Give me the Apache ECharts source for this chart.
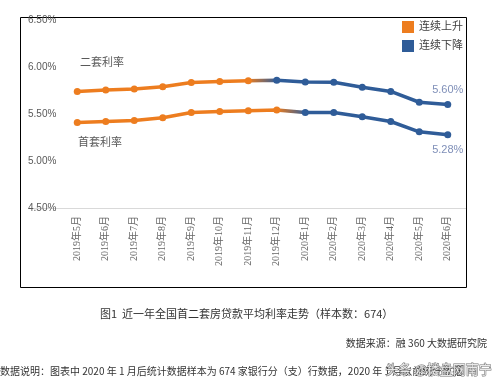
<!DOCTYPE html>
<html>
<head>
<meta charset="utf-8">
<script src="https://cdn.jsdelivr.net/npm/echarts@6/dist/echarts.min.js"></script>
<style>
html,body{margin:0;padding:0;background:#fff;}
#c{width:498px;height:392px;}
</style>
</head>
<body>
<div id="c"></div>
<script>
var categories = ['2019年5月','2019年6月','2019年7月','2019年8月','2019年9月','2019年10月','2019年11月','2019年12月','2020年1月','2020年2月','2020年3月','2020年4月','2020年5月','2020年6月'];
var secondHome = [5.74, 5.755, 5.765, 5.79, 5.835, 5.845, 5.853, 5.86, 5.84, 5.837, 5.784, 5.74, 5.625, 5.60];
var firstHome  = [5.41, 5.42, 5.43, 5.46, 5.515, 5.527, 5.535, 5.543, 5.517, 5.517, 5.47, 5.42, 5.31, 5.28];
var yTicks = [4.5, 5.0, 5.5, 6.0, 6.5];
var secondLastRise = 6;  // last index of rising segment (二套)
var firstLastRise = 7;   // last index of rising segment (首套)

var ORANGE = '#ED7D1F';
var BLUE = '#2F5C98';
var n = categories.length;

function grad(lastRise) {
  var a = lastRise / (n - 1), b = (lastRise + 1) / (n - 1);
  return new echarts.graphic.LinearGradient(0, 0, 1, 0, [
    {offset: 0, color: ORANGE}, {offset: a, color: ORANGE},
    {offset: b, color: BLUE}, {offset: 1, color: BLUE}
  ]);
}

function makeSeries(name, data, lastRise, labelPos) {
  return {
    name: name, type: 'line', data: data,
    symbol: 'circle', symbolSize: 7, showSymbol: true,
    lineStyle: {width: 3.5, color: grad(lastRise)},
    itemStyle: {color: function (p) { return p.dataIndex <= lastRise ? ORANGE : BLUE; }},
    label: {
      show: true, position: labelPos, distance: 6,
      color: '#7F8FB8', fontSize: 11, fontFamily: 'Liberation Sans',
      formatter: function (p) { return p.dataIndex === n - 1 ? p.value.toFixed(2) + '%' : ''; }
    },
    z: 3, animation: false
  };
}

var chart = echarts.init(document.getElementById('c'), null, {renderer: 'canvas'});
chart.setOption({
  backgroundColor: '#fff',
  animation: false,
  grid: {left: 63, right: 36, top: 20, height: 188},
  xAxis: {
    type: 'category', data: categories, boundaryGap: true,
    axisLine: {show: true, lineStyle: {color: '#D9D9D9', width: 1}},
    axisTick: {show: false},
    axisLabel: {rotate: 90, interval: 0, margin: 8, color: '#666', fontSize: 10, fontFamily: 'Liberation Serif, Noto Sans CJK SC'}
  },
  yAxis: {
    type: 'value', min: yTicks[0], max: yTicks[yTicks.length - 1], interval: 0.5,
    axisLine: {show: false}, axisTick: {show: false}, splitLine: {show: false},
    axisLabel: {
      align: 'left', margin: 35, color: '#595959', fontSize: 10, fontFamily: 'Liberation Sans',
      formatter: function (v) { return v.toFixed(2) + '%'; }
    }
  },
  series: [
    makeSeries('二套利率', secondHome, secondLastRise, 'top'),
    makeSeries('首套利率', firstHome, firstLastRise, 'bottom')
  ],
  graphic: [
    {type: 'rect', shape: {x: 20.5, y: 17.5, width: 446, height: 270}, style: {fill: 'none', stroke: '#000', lineWidth: 1}, z: 0},
    {type: 'line', shape: {x1: 28, y1: 208.5, x2: 466, y2: 208.5}, style: {stroke: '#D9D9D9', lineWidth: 1}, z: 0},
    {type: 'text', left: 80, top: 56, style: {text: '二套利率', fill: '#595959', font: '11px "Noto Sans CJK SC"'}},
    {type: 'text', left: 78, top: 136, style: {text: '首套利率', fill: '#595959', font: '11px "Noto Sans CJK SC"'}},
    {type: 'rect', shape: {x: 402, y: 21, width: 12, height: 12}, style: {fill: ORANGE}},
    {type: 'text', left: 419, top: 20, style: {text: '连续上升', fill: '#404040', font: '11px "Noto Sans CJK SC"'}},
    {type: 'rect', shape: {x: 402, y: 40, width: 12, height: 12}, style: {fill: BLUE}},
    {type: 'text', left: 419, top: 39, style: {text: '连续下降', fill: '#404040', font: '11px "Noto Sans CJK SC"'}},
    {type: 'text', left: 100, top: 308, style: {text: '图1  近一年全国首二套房贷款平均利率走势（样本数：674）', fill: '#333', font: '11px "Noto Sans CJK SC"'}},
    {type: 'text', right: 11, top: 338, style: {text: '数据来源：融 360 大数据研究院', fill: '#333', font: '10px "Noto Sans CJK SC"'}},
    {type: 'text', left: 0, top: 366, style: {text: '数据说明：图表中 2020 年 1 月后统计数据样本为 674 家银行分（支）行数据，2020 年 1 月以前统计数据', fill: '#333', font: '10px "Noto Sans CJK SC"'}},
    {type: 'text', left: 385, top: 362, style: {text: '头条 @楼盘网南宁', fill: '#fff', stroke: '#555', lineWidth: 1, font: '13px "Noto Sans CJK SC"', opacity: 0.85}, z: 10}
  ]
});
</script>
</body>
</html>
